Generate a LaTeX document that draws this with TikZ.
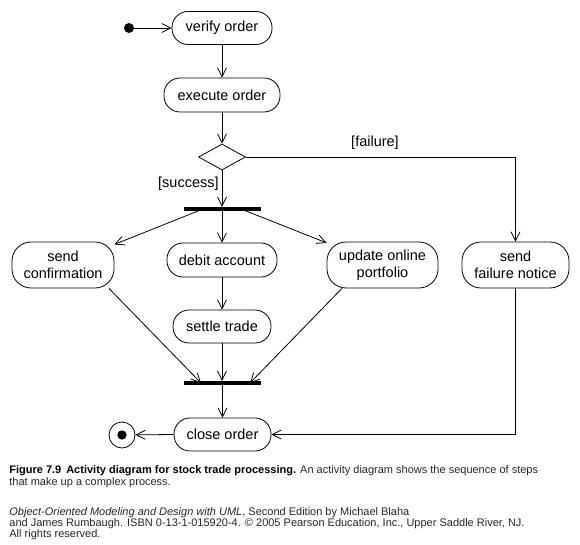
\documentclass[tikz,border=0pt]{standalone}
\usepackage{fontspec}
\setmainfont{Liberation Sans}
\usetikzlibrary{arrows.meta,shapes.geometric,calc}
\begin{document}
\begin{tikzpicture}[x=1pt,y=-1pt,
  every path/.style={line width=0.8pt},
  act/.style={draw,rectangle,rounded corners=16pt,inner sep=0pt,align=center,
    font=\fontsize{14.5}{16.5}\selectfont},
  tallact/.style={act,rounded corners=19pt,minimum height=46pt},
  bar/.style={fill=black,inner sep=0pt,minimum width=77pt,minimum height=3.6pt},
  flow/.style={-{Straight Barb[length=9pt,width=9pt]}},
  guard/.style={font=\fontsize{14.5}{16.5}\selectfont,inner sep=0pt},
  captxt/.style={anchor=west,inner sep=0pt,font=\fontsize{11}{12}\selectfont}]
\useasboundingbox (0,0) rectangle (580,545);
% nodes
\node[circle,fill=black,inner sep=0pt,minimum size=10pt] (init) at (129,28) {};
\node[act,minimum width=100pt,minimum height=33pt] (verify) at (222,28) {verify order};
\node[act,minimum width=116pt,minimum height=34pt] (execute) at (222,95) {execute order};
\node[draw,diamond,inner sep=0pt,minimum width=47pt,minimum height=26pt] (dec) at (222,157) {};
\node[bar] (fork) at (222.5,209) {};
\node[tallact,minimum width=102pt] (sendconf) at (63,265) {send\\confirmation};
\node[act,minimum width=110pt,minimum height=34pt] (debit) at (222,260) {debit account};
\node[tallact,minimum width=111pt] (update) at (382.5,265) {update online\\portfolio};
\node[tallact,minimum width=107pt] (fail) at (515.5,265) {send\\failure notice};
\node[act,minimum width=98pt,minimum height=33pt] (settle) at (222,326.5) {settle trade};
\node[bar] (join) at (222.5,383) {};
\node[act,minimum width=97pt,minimum height=33pt] (close) at (222.5,434.5) {close order};
\node[circle,draw,inner sep=0pt,minimum size=26pt] (final) at (122,435) {};
\node[circle,fill=black,inner sep=0pt,minimum size=9.4pt] (finaldot) at (final.center) {};
% guards
\node[guard] (lfail) at (375,143) {[failure]};
\node[guard,anchor=east] (lsucc) at (219,184) {[success]};
% coordinates on bars
\coordinate (fl) at ($(fork.center)+(-19.5,0)$);
\coordinate (fr) at ($(fork.center)+(18.5,0)$);
\coordinate (jl) at ($(join.center)+(-21.5,0)$);
\coordinate (jr) at ($(join.center)+(27.5,0)$);
% connectors
\draw[flow] (init) -- (verify.west);
\draw[flow] (verify.south) -- (execute.north);
\draw[flow] (execute.south) -- (dec.north);
\draw[flow] (dec.south) -- (dec.south |- fork.north);
\draw[flow] (dec.east) -- (dec.east -| fail.north) -- (fail.north);
\draw[flow] (fl) -- (sendconf);
\draw[flow] (fork.south -| debit.north) -- (debit.north);
\draw[flow] (fr) -- (update);
\draw[flow] (debit.south) -- (settle.north);
\draw[flow] (sendconf.-27) -- (jl);
\draw[flow] (settle.south) -- (settle.south |- join.north);
\draw[flow] (update.-150) -- (jr);
\draw[flow] (join.south -| close.north) -- (close.north);
\draw[flow] (close.west) -- (final);
\draw[flow] (fail.south) -- (fail.south |- close.east) -- (close.east);
% caption
\node[captxt] (c1) at (9,471) {\textbf{Figure 7.9\hspace{0.45em}Activity diagram for stock trade processing.} \textcolor{black!85}{An activity diagram shows the sequence of steps}};
\node[captxt,text=black!85] (c2) at (9,483) {that make up a complex process.};
\node[captxt,text=black!85] (c3) at (9,513) {\textit{Object-Oriented Modeling and Design with UML}, Second Edition by Michael Blaha};
\node[captxt,text=black!85] (c4) at (9,524) {and James Rumbaugh. ISBN 0-13-1-015920-4. © 2005 Pearson Education, Inc., Upper Saddle River, NJ.};
\node[captxt,text=black!85] (c5) at (9,535) {All rights reserved.};
\end{tikzpicture}
\end{document}
